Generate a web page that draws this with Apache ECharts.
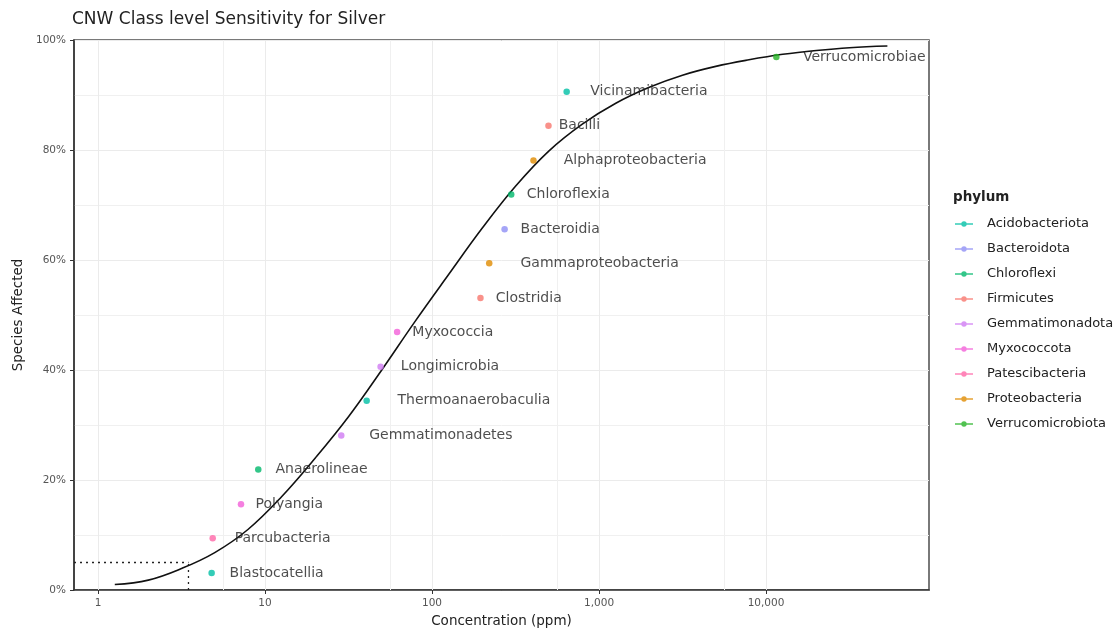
<!DOCTYPE html>
<html>
<head>
<meta charset="utf-8">
<title>CNW Class level Sensitivity for Silver</title>
<script src="https://cdn.jsdelivr.net/npm/echarts@6/dist/echarts.min.js"></script>
<style>
  html, body { margin: 0; padding: 0; background: #ffffff; }
  #chart { width: 1115px; height: 631px; }
</style>
</head>
<body>
<div id="chart"></div>
<script>
// Classes with their phylum, toxicity concentration (ppm) and plotting position
const classes = ['Blastocatellia', 'Parcubacteria', 'Polyangia', 'Anaerolineae', 'Gemmatimonadetes',
  'Thermoanaerobaculia', 'Longimicrobia', 'Myxococcia', 'Clostridia', 'Gammaproteobacteria',
  'Bacteroidia', 'Chloroflexia', 'Alphaproteobacteria', 'Bacilli', 'Vicinamibacteria', 'Verrucomicrobiae'];
const classPhylum = ['Acidobacteriota', 'Patescibacteria', 'Myxococcota', 'Chloroflexi', 'Gemmatimonadota',
  'Acidobacteriota', 'Gemmatimonadota', 'Myxococcota', 'Firmicutes', 'Proteobacteria',
  'Bacteroidota', 'Chloroflexi', 'Proteobacteria', 'Firmicutes', 'Acidobacteriota', 'Verrucomicrobiota'];
const concentration = [4.79, 4.86, 7.18, 9.11, 28.6, 40.6, 49.2, 61.8, 195, 220, 272, 298, 405, 498, 640, 11530];
const affected = [0.031, 0.094, 0.156, 0.219, 0.281, 0.344, 0.406, 0.469, 0.531, 0.594, 0.656, 0.719,
  0.781, 0.844, 0.906, 0.969];

// Legend order and colours
const phyla = ['Acidobacteriota', 'Bacteroidota', 'Chloroflexi', 'Firmicutes', 'Gemmatimonadota',
  'Myxococcota', 'Patescibacteria', 'Proteobacteria', 'Verrucomicrobiota'];
const phylumColors = ['#00BFA5', '#8F8FF5', '#00B86B', '#F8766D', '#D07AF2',
  '#F25FD8', '#FF66A8', '#E08B00', '#26B326'];

// Fitted species sensitivity curve
const curveConc = [1.26, 2, 3.16, 5, 7.9, 12.6, 20, 31.6, 50, 79, 126, 200, 316, 500, 794, 1260,
  2000, 3160, 5000, 7900, 12600, 20000, 31600, 53300];
const curveFrac = [0.010, 0.018, 0.039, 0.068, 0.110, 0.170, 0.240, 0.315, 0.400, 0.488, 0.574, 0.658,
  0.734, 0.798, 0.847, 0.885, 0.914, 0.936, 0.952, 0.964, 0.974, 0.981, 0.986, 0.989];

// HC5 reference
const hc5 = 3.48;
const hc5Level = 0.05;

// Axis settings
const xMin = 0.718;
const xMax = 94600;
const xMajor = [1, 10, 100, 1000, 10000];
const xMinor = [5.62, 56.2, 562, 5623];

// Horizontal gap (px) between each point and its label
const labelGap = [17.7, 21.7, 14.3, 17, 27.7, 30.6, 20, 15, 15, 31, 15.7, 15.3, 30, 10, 23.4, 26.3];

const FONT = 'DejaVu Sans';

const series = [];

// vertical grid lines on the log scale
series.push({
  type: 'line',
  data: [],
  silent: true,
  z: 1,
  markLine: {
    silent: true,
    animation: false,
    z: 1,
    symbol: ['none', 'none'],
    label: { show: false },
    lineStyle: { color: '#ebebeb', width: 1, type: 'solid' },
    data: xMajor.map(v => ({ xAxis: v })).concat(
      xMinor.map(v => ({ xAxis: v, lineStyle: { color: '#f0f0f0', width: 1, type: 'solid' } })))
  }
});

// HC5 guide lines
series.push({
  type: 'line',
  data: [[xMin, hc5Level], [hc5, hc5Level]],
  showSymbol: false, symbol: 'none', silent: true, z: 2,
  lineStyle: { color: '#222', width: 1.3, type: [2, 4] }
});
series.push({
  type: 'line',
  data: [[hc5, 0], [hc5, hc5Level]],
  showSymbol: false, symbol: 'none', silent: true, z: 2,
  lineStyle: { color: '#222', width: 1.3, type: [2, 4] }
});

// fitted curve
series.push({
  type: 'line',
  data: curveConc.map((c, i) => [c, curveFrac[i]]),
  showSymbol: false, symbol: 'none', smooth: 0.4, silent: true, z: 3,
  lineStyle: { color: '#111', width: 1.6 }
});

// points coloured by phylum, labelled by class
phyla.forEach((p, k) => {
  const data = [];
  classes.forEach((c, i) => {
    if (classPhylum[i] !== p) return;
    data.push({
      name: c,
      value: [concentration[i], affected[i]],
      label: { distance: labelGap[i] - 3 }
    });
  });
  series.push({
    type: 'scatter',
    name: p,
    data: data,
    symbol: 'circle',
    symbolSize: 6.5,
    z: 4,
    itemStyle: { color: phylumColors[k] },
    label: {
      show: true,
      position: 'right',
      formatter: '{b}',
      fontFamily: FONT,
      fontSize: 14,
      color: '#222'
    }
  });
});

const chart = echarts.init(document.getElementById('chart'), null, { renderer: 'canvas' });
chart.setOption({
  animation: false,
  backgroundColor: '#ffffff',
  title: [
    {
      text: 'CNW Class level Sensitivity for Silver',
      left: 67, top: 6,
      textStyle: { fontFamily: FONT, fontSize: 17, fontWeight: 'normal', color: '#222' }
    },
    {
      text: 'phylum',
      left: 948, top: 185,
      textStyle: { fontFamily: FONT, fontSize: 13.5, fontWeight: 'bold', color: '#222' }
    }
  ],
  grid: {
    left: 74, right: 186, top: 40, bottom: 41,
    outerBoundsMode: 'none',
    containLabel: false,
    show: true, borderColor: '#4d4d4d', borderWidth: 1.5, backgroundColor: '#ffffff'
  },
  legend: {
    orient: 'vertical',
    left: 955, top: 216,
    padding: 0,
    itemWidth: 18, itemHeight: 6,
    itemGap: 9,
    icon: 'path://M0,2.2 L20,2.2 L20,3.8 L0,3.8 Z M7,3 A3,3 0 1 1 13,3 A3,3 0 1 1 7,3 Z',
    data: phyla,
    selectedMode: false,
    textStyle: { fontFamily: FONT, fontSize: 13, color: '#222', lineHeight: 16, padding: [0, 0, 0, 9] }
  },
  xAxis: {
    type: 'log',
    logBase: 10,
    min: xMin, max: xMax,
    name: 'Concentration (ppm)',
    nameLocation: 'middle',
    nameGap: 24,
    nameTextStyle: { fontFamily: FONT, fontSize: 13.5, color: '#222' },
    axisLine: { show: true, onZero: false, lineStyle: { color: '#333', width: 1.5 } },
    axisTick: { show: true, length: 4, lineStyle: { color: '#333' } },
    splitLine: { show: false },
    axisLabel: {
      margin: 8,
      fontFamily: FONT, fontSize: 10.5, color: '#555',
      showMinLabel: false, showMaxLabel: false,
      formatter: v => {
        const l = Math.log10(v);
        if (Math.abs(l - Math.round(l)) > 1e-6) return '';
        return Math.round(v).toLocaleString('en-US');
      }
    }
  },
  yAxis: {
    type: 'value',
    min: 0, max: 1, interval: 0.2,
    name: 'Species Affected',
    nameLocation: 'middle',
    nameGap: 47,
    nameTextStyle: { fontFamily: FONT, fontSize: 13.5, color: '#222' },
    axisLine: { show: true, lineStyle: { color: '#333', width: 1.5 } },
    axisTick: { show: true, length: 4, lineStyle: { color: '#333' } },
    minorTick: { show: false, splitNumber: 2 },
    splitLine: { show: true, lineStyle: { color: '#ebebeb', width: 1 } },
    minorSplitLine: { show: true, lineStyle: { color: '#f0f0f0', width: 1 } },
    axisLabel: {
      margin: 8,
      fontFamily: FONT, fontSize: 10.5, color: '#555',
      formatter: v => Math.round(v * 100) + '%'
    }
  },
  series: series
});
</script>
</body>
</html>
